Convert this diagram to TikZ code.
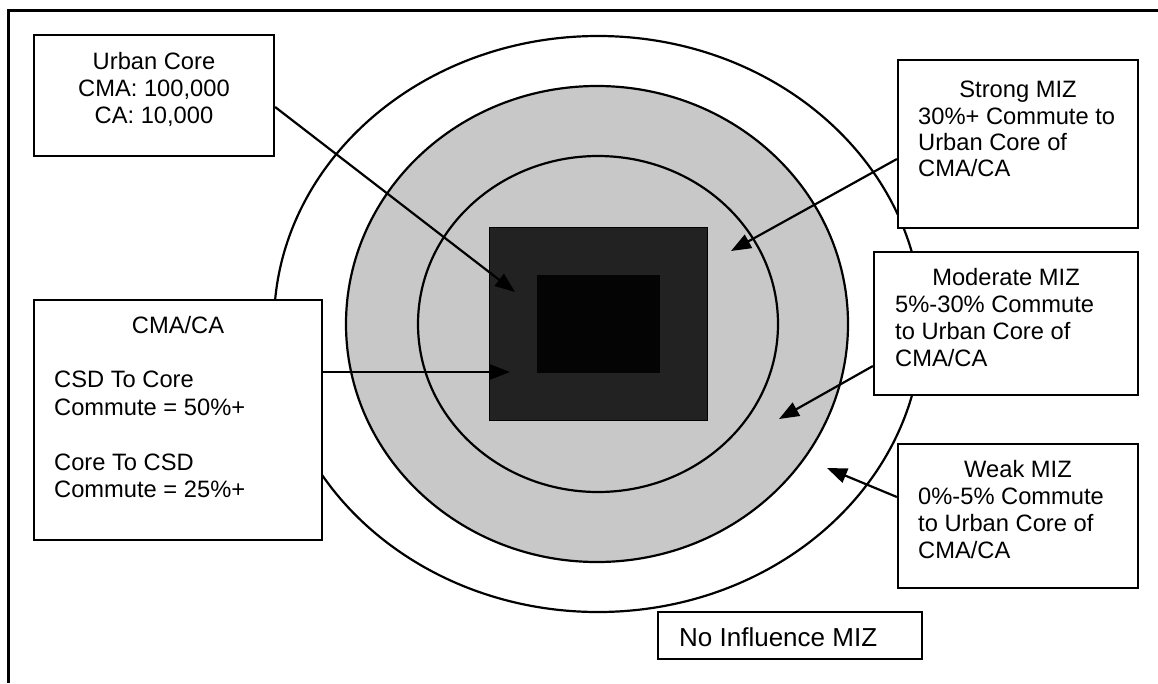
\documentclass[tikz,border=0pt]{standalone}
\usepackage{fontspec}
\setmainfont{Liberation Sans}
\usetikzlibrary{arrows.meta}
\newcommand\boxfont{\fontsize{23.7pt}{27pt}\selectfont}
\definecolor{ringgrey}{HTML}{C8C8C8}
\definecolor{coregrey}{HTML}{222222}
\definecolor{coreblack}{HTML}{040404}
\tikzset{
  frameline/.style={line width=3.3pt},
  zone/.style={line width=2.2pt},
  box/.style={draw=black, line width=2.2pt, fill=white, rectangle, inner sep=0pt},
  ltxt/.style={font=\boxfont, anchor=base west, inner sep=0pt},
  ctxt/.style={font=\boxfont, anchor=base, inner sep=0pt},
  lead/.style={line width=2.2pt, -{Triangle[length=20pt,width=15pt]}}
}
\begin{document}
\begin{tikzpicture}[x=1pt,y=-1pt]
\useasboundingbox (0,0) rectangle (1158,683);

% page frame (top and left rules)
\draw[frameline] (8.4,683) -- (8.4,10.5) -- (1158,10.5);

% zones of influence
\draw[zone, fill=white] (598,324) ellipse [x radius=324, y radius=288];
\draw[zone, fill=ringgrey] (597,324) ellipse [x radius=251, y radius=238];
\draw[zone] (598,324) ellipse [x radius=180, y radius=168];

% CMA/CA and its urban core
\draw[line width=1pt, fill=coregrey] (489,227) rectangle (707,420);
\fill[coreblack] (537,275) rectangle (660,373);

% arrow targets
\coordinate (coretip) at (515,292);
\coordinate (cmatip) at (510,372);
\coordinate (strongtip) at (731,251);
\coordinate (modtip) at (779,419);
\coordinate (weaktip) at (827,468);

% label boxes
\node[box, minimum width=288pt, minimum height=240pt] (cma) at (178,420) {};
\node[box, minimum width=240pt, minimum height=121pt] (urban) at (154,95.5) {};
\node[box, minimum width=240pt, minimum height=168pt] (strong) at (1018,144) {};
\node[box, minimum width=264pt, minimum height=143pt] (moderate) at (1006,323.5) {};
\node[box, minimum width=240pt, minimum height=144pt] (weak) at (1018,516) {};
\node[box, minimum width=264pt, minimum height=47pt] (noinf) at (790,635.5) {};

% connectors
\draw[lead] ([yshift=-11.5pt]urban.east) -- (coretip);
\draw[lead] (cma.east |- cmatip) -- (cmatip);
\draw[lead] ([yshift=-15pt]strong.west) -- (strongtip);
\draw[lead] ([yshift=-42.5pt]moderate.west) -- (modtip);
\draw[lead] ([yshift=19pt]weak.west) -- (weaktip);

% box texts
\node[ctxt] (u1) at (154,69) {Urban Core};
\node[ctxt] (u2) at (154,96) {CMA: 100,000};
\node[ctxt] (u3) at (154,123) {CA: 10,000};

\node[ctxt] (c1) at (178,333) {CMA/CA};
\node[ltxt] (c2) at (54,387) {CSD To Core};
\node[ltxt] (c3) at (54,415) {Commute = 50\%+};
\node[ltxt] (c4) at (54,470) {Core To CSD};
\node[ltxt] (c5) at (54,497) {Commute = 25\%+};

\node[ctxt] (s1) at (1018,97) {Strong MIZ};
\node[ltxt] (s2) at (918,124) {30\%+ Commute to};
\node[ltxt] (s3) at (918,150) {Urban Core of};
\node[ltxt] (s4) at (918,176) {CMA/CA};

\node[ctxt] (m1) at (1006,285) {Moderate MIZ};
\node[ltxt] (m2) at (895,312) {5\%-30\% Commute};
\node[ltxt] (m3) at (895,339) {to Urban Core of};
\node[ltxt] (m4) at (895,366) {CMA/CA};

\node[ctxt] (w1) at (1018,477) {Weak MIZ};
\node[ltxt] (w2) at (918,504) {0\%-5\% Commute};
\node[ltxt] (w3) at (918,531) {to Urban Core of};
\node[ltxt] (w4) at (918,558) {CMA/CA};

\node[ltxt, font=\fontsize{26pt}{30pt}\selectfont] (n1) at (679,646) {No Influence MIZ};
\end{tikzpicture}
\end{document}
